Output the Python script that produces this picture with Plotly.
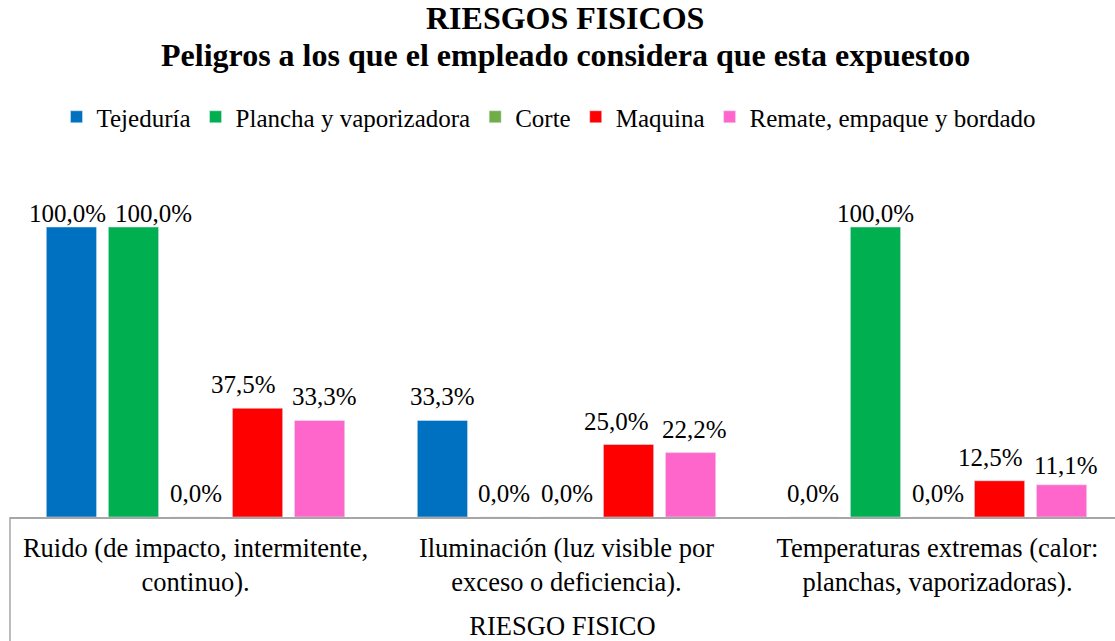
import plotly.graph_objects as go

categories = ["Ruido (de impacto, intermitente,<br>continuo).",
              "Iluminación (luz visible por<br>exceso o deficiencia).",
              "Temperaturas extremas (calor:<br>planchas, vaporizadoras)."]
series_names = ["Tejeduría", "Plancha y vaporizadora", "Corte", "Maquina", "Remate, empaque y bordado"]
tejeduria = [100.0, 33.3, 0.0]
plancha = [100.0, 0.0, 100.0]
corte = [0.0, 0.0, 0.0]
maquina = [37.5, 25.0, 12.5]
remate = [33.3, 22.2, 11.1]
colors = ["#0070C0", "#00B050", "#70AD47", "#FF0000", "#FF66CC"]
title_lines = ["RIESGOS FISICOS", "Peligros a los que el empleado considera que esta expuestoo"]
x_title = "RIESGO FISICO"

values = [tejeduria, plancha, corte, maquina, remate]
FONT = "Liberation Serif"

# label nudges (pixels) so neighbouring labels do not collide: (series, category) -> (dx, dy)
label_nudge = {(0, 0): (-4, -10), (1, 0): (20, -10), (1, 2): (0, -10),
               (3, 0): (-14, 0), (4, 0): (5, 0),
               (3, 1): (-12, 0), (4, 1): (4, 0),
               (3, 2): (-9, 0), (4, 2): (4, -4)}

fig = go.Figure()
x = list(range(len(categories)))
for name, vals, col in zip(series_names, values, colors):
    fig.add_trace(go.Bar(x=x, y=vals, name=name, marker_color=col, cliponaxis=False))

SLOT = 371 * (1 - 0.164) / len(series_names)
for i, vals in enumerate(values):
    for j, v in enumerate(vals):
        dx, dy = label_nudge.get((i, j), (0, 0))
        fig.add_annotation(x=x[j], y=v, xref="x", yref="y",
                           text=f"{v:.1f}%".replace(".", ","), showarrow=False,
                           xanchor="center", yanchor="bottom",
                           xshift=(i - (len(series_names) - 1) / 2) * SLOT + dx, yshift=8 + dy,
                           font=dict(family=FONT, size=25, color="black"))

plot_h = 517 - 169
def py(Y):
    return (517 - Y) / plot_h
def px(X):
    return (X - 10) / 1105

fig.update_layout(
    width=1115, height=641,
    margin=dict(l=10, r=0, t=169, b=124, autoexpand=False),
    paper_bgcolor="white", plot_bgcolor="white",
    barmode="group", bargap=0.164, bargroupgap=0.19,
    font=dict(family=FONT, size=25, color="black"),
    legend=dict(orientation="h", x=px(549), xanchor="center", y=py(117), yanchor="middle",
                font=dict(family=FONT, size=25), itemwidth=30, traceorder="normal"),
    showlegend=True,
    xaxis=dict(tickmode="array", tickvals=x, ticktext=categories, automargin=False,
               range=[-0.5, -0.5 + 1105 / 371], showgrid=False, zeroline=False,
               showline=True, linecolor="#A6A6A6", linewidth=1.5, ticks="",
               ticklabelstandoff=6,
               tickfont=dict(family=FONT, size=26.5),
               title=dict(text=x_title, font=dict(family=FONT, size=26.5), standoff=27)),
    yaxis=dict(range=[0, 120], visible=False),
)
for txt, Y in zip(title_lines, [18, 55]):
    fig.add_annotation(text=f"<b>{txt}</b>", xref="paper", yref="paper", x=px(565),
                       y=py(Y), xanchor="center", yanchor="middle", showarrow=False,
                       font=dict(family=FONT, size=32, color="black"))
fig.add_shape(type="line", xref="paper", yref="paper", x0=0, x1=0, y0=0, y1=-124 / plot_h - 0.01,
              line=dict(color="#A6A6A6", width=1.5))
fig.write_html("out.html", config={"displayModeBar": False},
               post_script="document.body.style.margin='0';")
